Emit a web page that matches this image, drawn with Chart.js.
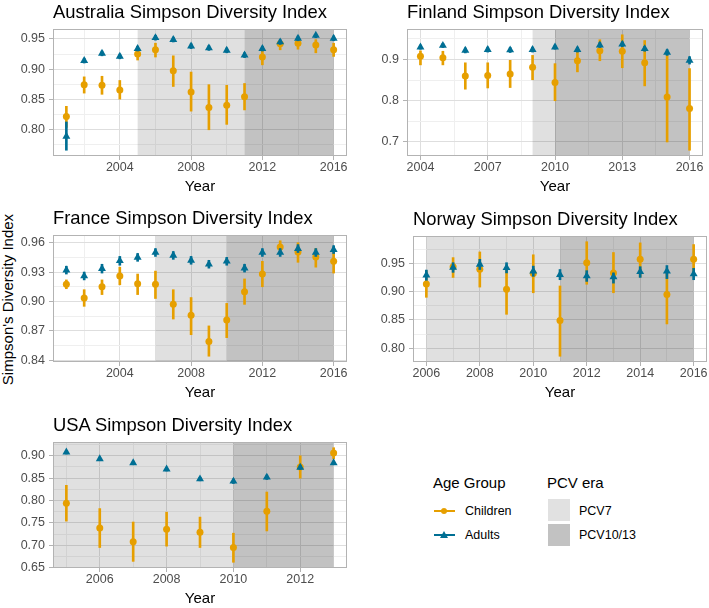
<!DOCTYPE html>
<html>
<head>
<meta charset="utf-8">
<script src="https://cdn.jsdelivr.net/npm/chart.js@4.4.0/dist/chart.umd.min.js"></script>
<style>
  html, body { margin: 0; padding: 0; background: #fff; overflow: hidden; }
  #page { position: relative; width: 709px; height: 608px; overflow: hidden;
          font-family: "Liberation Sans", Arial, sans-serif; color: #000; }
  #page canvas { position: absolute; }
  .title { position: absolute; font-size: 18.4px; line-height: 18px; white-space: nowrap; }
  .ylab { position: absolute; font-size: 15px; line-height: 15px; width: 300px; text-align: center;
          transform: rotate(-90deg); white-space: nowrap; }
  .lgd-title { position: absolute; font-size: 15px; line-height: 15px; white-space: nowrap; }
  .lgd-text { position: absolute; font-size: 12.5px; line-height: 12px; white-space: nowrap; }
  .lgd-line { position: absolute; width: 21px; height: 2px; }
  .lgd-dot { position: absolute; width: 6px; height: 6px; border-radius: 50%; }
  .lgd-tri { position: absolute; width: 0; height: 0; border-left: 4px solid transparent;
             border-right: 4px solid transparent; }
  .lgd-box { position: absolute; width: 22px; height: 22px; }
</style>
</head>
<body>
<div id="page">
  <div class="ylab" style="left:-143px; top:292px;">Simpson's Diversity Index</div>

  <div class="lgd-title" style="left:433px; top:475px;">Age Group</div>
  <div class="lgd-line" style="left:434px; top:510px; background:#E69F00;"></div>
  <div class="lgd-dot" style="left:441px; top:508px; background:#E69F00;"></div>
  <div class="lgd-text" style="left:465px; top:505px;">Children</div>
  <div class="lgd-line" style="left:434px; top:534px; background:#006f94;"></div>
  <div class="lgd-tri" style="left:440px; top:531px; border-bottom:7px solid #006f94;"></div>
  <div class="lgd-text" style="left:465px; top:529px;">Adults</div>

  <div class="lgd-title" style="left:547px; top:475px;">PCV era</div>
  <div class="lgd-box" style="left:548px; top:499px; background:#e1e1e1;"></div>
  <div class="lgd-box" style="left:548px; top:524px; background:#c2c2c2;"></div>
  <div class="lgd-text" style="left:579px; top:505px;">PCV7</div>
  <div class="lgd-text" style="left:579px; top:529px;">PCV10/13</div>
</div>

<script>
// ---------- data ----------

// Australia
const ausYears   = [2001, 2002, 2003, 2004, 2005, 2006, 2007, 2008, 2009, 2010, 2011, 2012, 2013, 2014, 2015, 2016];
const ausChild   = [0.821, 0.874, 0.873, 0.865, 0.925, 0.932, 0.897, 0.862, 0.836, 0.840, 0.854, 0.920, 0.942, 0.943, 0.940, 0.932];
const ausChildLo = [0.803, 0.860, 0.858, 0.850, 0.915, 0.920, 0.871, 0.830, 0.799, 0.808, 0.832, 0.907, 0.932, 0.933, 0.927, 0.921];
const ausChildHi = [0.838, 0.887, 0.888, 0.881, 0.933, 0.943, 0.922, 0.895, 0.874, 0.873, 0.876, 0.930, 0.946, 0.948, 0.949, 0.943];
const ausAdult   = [0.788, 0.914, 0.926, 0.921, 0.934, 0.952, 0.949, 0.938, 0.935, 0.931, 0.923, 0.934, 0.945, 0.951, 0.956, 0.951];
const ausAdultLo = [0.765, 0.910, 0.922, 0.917, 0.930, 0.948, 0.945, 0.934, 0.931, 0.927, 0.919, 0.930, 0.941, 0.947, 0.952, 0.947];
const ausAdultHi = [0.812, 0.918, 0.930, 0.925, 0.938, 0.956, 0.953, 0.942, 0.939, 0.935, 0.927, 0.938, 0.949, 0.955, 0.957, 0.955];
const ausEra     = [2005, 2011, 2016];

// Finland
const finYears   = [2004, 2005, 2006, 2007, 2008, 2009, 2010, 2011, 2012, 2013, 2014, 2015, 2016];
const finChild   = [0.908, 0.904, 0.860, 0.861, 0.865, 0.881, 0.844, 0.897, 0.921, 0.920, 0.892, 0.809, 0.781];
const finChildLo = [0.887, 0.887, 0.828, 0.831, 0.832, 0.851, 0.800, 0.870, 0.897, 0.880, 0.836, 0.700, 0.680];
const finChildHi = [0.921, 0.920, 0.892, 0.892, 0.898, 0.910, 0.890, 0.920, 0.948, 0.960, 0.946, 0.915, 0.878];
const finAdult   = [0.930, 0.934, 0.922, 0.924, 0.923, 0.924, 0.930, 0.924, 0.935, 0.937, 0.926, 0.917, 0.898];
const finAdultLo = [0.925, 0.929, 0.916, 0.918, 0.917, 0.918, 0.925, 0.918, 0.929, 0.931, 0.920, 0.910, 0.889];
const finAdultHi = [0.935, 0.939, 0.928, 0.930, 0.929, 0.930, 0.935, 0.930, 0.941, 0.943, 0.932, 0.924, 0.907];
const finEra     = [2009, 2010, 2016];

// France
const fraYears   = [2001, 2002, 2003, 2004, 2005, 2006, 2007, 2008, 2009, 2010, 2011, 2012, 2013, 2014, 2015, 2016];
const fraChild   = [0.9175, 0.9035, 0.915, 0.926, 0.918, 0.9175, 0.897, 0.886, 0.859, 0.881, 0.910, 0.928, 0.9556, 0.9505, 0.9454, 0.941];
const fraChildLo = [0.913, 0.895, 0.907, 0.917, 0.907, 0.903, 0.882, 0.866, 0.844, 0.863, 0.897, 0.915, 0.951, 0.940, 0.935, 0.929];
const fraChildHi = [0.922, 0.912, 0.922, 0.935, 0.928, 0.931, 0.912, 0.904, 0.875, 0.898, 0.923, 0.941, 0.962, 0.960, 0.954, 0.950];
const fraAdult   = [0.932, 0.926, 0.9335, 0.9416, 0.945, 0.950, 0.947, 0.942, 0.938, 0.941, 0.934, 0.950, 0.950, 0.954, 0.950, 0.953];
const fraAdultLo = [0.928, 0.922, 0.929, 0.937, 0.941, 0.946, 0.943, 0.938, 0.934, 0.937, 0.930, 0.946, 0.946, 0.950, 0.946, 0.949];
const fraAdultHi = [0.936, 0.930, 0.938, 0.946, 0.949, 0.954, 0.951, 0.946, 0.942, 0.945, 0.938, 0.954, 0.954, 0.958, 0.954, 0.957];
const fraEra     = [2006, 2010, 2016];

// Norway
const norYears   = [2006, 2007, 2008, 2009, 2010, 2011, 2012, 2013, 2014, 2015, 2016];
const norChild   = [0.9136, 0.944, 0.9396, 0.904, 0.932, 0.849, 0.951, 0.933, 0.957, 0.895, 0.957];
const norChildLo = [0.890, 0.925, 0.908, 0.860, 0.898, 0.786, 0.913, 0.898, 0.926, 0.843, 0.932];
const norChildHi = [0.937, 0.960, 0.970, 0.945, 0.965, 0.910, 0.988, 0.969, 0.986, 0.937, 0.983];
const norAdult   = [0.929, 0.9425, 0.948, 0.942, 0.936, 0.930, 0.9275, 0.926, 0.935, 0.936, 0.931];
const norAdultLo = [0.920, 0.934, 0.939, 0.933, 0.927, 0.921, 0.918, 0.915, 0.925, 0.923, 0.921];
const norAdultHi = [0.938, 0.951, 0.957, 0.951, 0.945, 0.939, 0.937, 0.933, 0.944, 0.946, 0.941];
const norEra     = [2006, 2011, 2016];

// USA
const usaYears   = [2005, 2006, 2007, 2008, 2009, 2010, 2011, 2012, 2013];
const usaChild   = [0.794, 0.7385, 0.708, 0.736, 0.729, 0.695, 0.776, 0.875, 0.906];
const usaChildLo = [0.754, 0.695, 0.664, 0.698, 0.695, 0.662, 0.732, 0.850, 0.893];
const usaChildHi = [0.834, 0.782, 0.752, 0.774, 0.763, 0.727, 0.819, 0.900, 0.918];
const usaAdult   = [0.908, 0.893, 0.884, 0.870, 0.848, 0.843, 0.852, 0.874, 0.884];
const usaAdultLo = [0.904, 0.889, 0.880, 0.866, 0.844, 0.838, 0.847, 0.869, 0.880];
const usaAdultHi = [0.912, 0.897, 0.888, 0.874, 0.852, 0.848, 0.857, 0.879, 0.888];
const usaEra     = [2000, 2010, 2013];

// ---------- tick labels ----------
const ausXMajor = [2004, 2008, 2012, 2016];        const ausXMinor = [2002, 2006, 2010, 2014];
const ausYMajor = [0.80, 0.85, 0.90, 0.95];        const ausYMinor = [0.775, 0.825, 0.875, 0.925];
const finXMajor = [2004, 2007, 2010, 2013, 2016];  const finXMinor = [2005.5, 2008.5, 2011.5, 2014.5];
const finYMajor = [0.7, 0.8, 0.9];                 const finYMinor = [0.75, 0.85, 0.95];
const fraXMajor = [2004, 2008, 2012, 2016];        const fraXMinor = [2002, 2006, 2010, 2014];
const fraYMajor = [0.84, 0.87, 0.90, 0.93, 0.96];  const fraYMinor = [0.855, 0.885, 0.915, 0.945];
const norXMajor = [2006, 2008, 2010, 2012, 2014, 2016]; const norXMinor = [2007, 2009, 2011, 2013, 2015];
const norYMajor = [0.80, 0.85, 0.90, 0.95];        const norYMinor = [0.825, 0.875, 0.925, 0.975];
const usaXMajor = [2006, 2008, 2010, 2012];        const usaXMinor = [2005, 2007, 2009, 2011, 2013];
const usaYMajor = [0.65, 0.70, 0.75, 0.80, 0.85, 0.90]; const usaYMinor = [0.675, 0.725, 0.775, 0.825, 0.875, 0.925];

// ---------- setup ----------
const ORANGE = "#E69F00";
const BLUE   = "#006f94";
Chart.defaults.font.family = "'Liberation Sans', Arial, sans-serif";

const panels = [
  { title: "Australia Simpson Diversity Index", rect: [53, 29, 347, 156],
    years: ausYears, child: ausChild, childLo: ausChildLo, childHi: ausChildHi,
    adult: ausAdult, adultLo: ausAdultLo, adultHi: ausAdultHi, era: ausEra,
    xMajor: ausXMajor, xMinor: ausXMinor, yMajor: ausYMajor, yMinor: ausYMinor,
    xLim: [2000.25, 2016.75], yLim: [0.7554, 0.9666], digits: 2 },
  { title: "Finland Simpson Diversity Index", rect: [407, 29, 703, 156],
    years: finYears, child: finChild, childLo: finChildLo, childHi: finChildHi,
    adult: finAdult, adultLo: finAdultLo, adultHi: finAdultHi, era: finEra,
    xMajor: finXMajor, xMinor: finXMinor, yMajor: finYMajor, yMinor: finYMinor,
    xLim: [2003.4, 2016.6], yLim: [0.666, 0.974], digits: 1 },
  { title: "France Simpson Diversity Index", rect: [53, 235, 347, 362],
    years: fraYears, child: fraChild, childLo: fraChildLo, childHi: fraChildHi,
    adult: fraAdult, adultLo: fraAdultLo, adultHi: fraAdultHi, era: fraEra,
    xMajor: fraXMajor, xMinor: fraXMinor, yMajor: fraYMajor, yMinor: fraYMinor,
    xLim: [2000.25, 2016.75], yLim: [0.8381, 0.9679], digits: 2 },
  { title: "Norway Simpson Diversity Index", rect: [413, 236, 707, 362],
    years: norYears, child: norChild, childLo: norChildLo, childHi: norChildHi,
    adult: norAdult, adultLo: norAdultLo, adultHi: norAdultHi, era: norEra,
    xMajor: norXMajor, xMinor: norXMinor, yMajor: norYMajor, yMinor: norYMinor,
    xLim: [2005.5, 2016.5], yLim: [0.7759, 0.9981], digits: 2 },
  { title: "USA Simpson Diversity Index", rect: [53, 442, 347, 568],
    years: usaYears, child: usaChild, childLo: usaChildLo, childHi: usaChildHi,
    adult: usaAdult, adultLo: usaAdultLo, adultHi: usaAdultHi, era: usaEra,
    xMajor: usaXMajor, xMinor: usaXMinor, yMajor: usaYMajor, yMinor: usaYMinor,
    xLim: [2004.6, 2013.4], yLim: [0.6492, 0.9308], digits: 2 }
];

const PAD_L = 50, PAD_T = 20, PAD_R = 14, AXIS_H = 42;
const has = (arr, v) => arr.some(m => Math.abs(m - v) < 1e-9);

// shaded vaccine eras, drawn over the grid but under the points, plus the panel border
const eraPlugin = {
  id: "eras",
  beforeDatasetsDraw(chart, args, opts) {
    const { ctx, chartArea: a, scales: { x } } = chart;
    const e = opts.bounds;
    const p0 = x.getPixelForValue(e[0]);
    const p1 = x.getPixelForValue(e[1]);
    const p2 = x.getPixelForValue(e[2]);
    ctx.save();
    ctx.beginPath();
    ctx.rect(a.left, a.top, a.width, a.height);
    ctx.clip();
    ctx.fillStyle = "rgba(0,0,0,0.12)";
    ctx.fillRect(p0, a.top, p1 - p0, a.height);
    ctx.fillStyle = "rgba(0,0,0,0.24)";
    ctx.fillRect(p1, a.top, p2 - p1, a.height);
    ctx.restore();
  },
  afterDatasetsDraw(chart) {
    const { ctx, chartArea: a } = chart;
    ctx.save();
    ctx.strokeStyle = "#b3b3b3";
    ctx.lineWidth = 1;
    ctx.strokeRect(a.left + 0.5, a.top + 0.5, a.width - 1, a.height - 1);
    ctx.restore();
  }
};

const page = document.getElementById("page");

panels.forEach(p => {
  const [L, T, R, B] = p.rect;

  const cv = document.createElement("canvas");
  cv.width = R - L + PAD_L + PAD_R;
  cv.height = B - T + PAD_T + AXIS_H;
  cv.style.left = (L - PAD_L) + "px";
  cv.style.top = (T - PAD_T) + "px";
  page.appendChild(cv);

  const t = document.createElement("div");
  t.className = "title";
  t.textContent = p.title;
  t.style.left = L + "px";
  t.style.top = (T - 26) + "px";
  page.appendChild(t);

  const xTicks = p.xMajor.concat(p.xMinor).sort((a, b) => a - b);
  const yTicks = p.yMajor.concat(p.yMinor).sort((a, b) => a - b);

  const pts = (vals) => p.years.map((yr, i) => ({ x: yr, y: vals[i] }));
  const bars = (lo, hi) => p.years.map((yr, i) => ({ x: yr, y: [lo[i], hi[i]] }));

  new Chart(cv, {
    type: "scatter",
    data: {
      datasets: [
        { type: "scatter", label: "Adults", data: pts(p.adult), order: 1,
          pointStyle: "triangle", pointRadius: 4.6, backgroundColor: BLUE, borderColor: BLUE, borderWidth: 0 },
        { type: "bar", label: "Adults range", data: bars(p.adultLo, p.adultHi), order: 2,
          backgroundColor: BLUE, barThickness: 2, grouped: false, borderWidth: 0 },
        { type: "scatter", label: "Children", data: pts(p.child), order: 3,
          pointStyle: "circle", pointRadius: 3.5, backgroundColor: ORANGE, borderColor: ORANGE, borderWidth: 0 },
        { type: "bar", label: "Children range", data: bars(p.childLo, p.childHi), order: 4,
          backgroundColor: ORANGE, barThickness: 2, grouped: false, borderWidth: 0 }
      ]
    },
    options: {
      responsive: false,
      animation: false,
      events: [],
      layout: { padding: { left: 0, top: PAD_T, right: PAD_R, bottom: 0 } },
      plugins: {
        legend: { display: false },
        tooltip: { enabled: false },
        eras: { bounds: p.era }
      },
      scales: {
        x: {
          type: "linear",
          min: p.xLim[0], max: p.xLim[1],
          offset: false,
          afterBuildTicks: axis => { axis.ticks = xTicks.map(v => ({ value: v })); },
          afterFit: axis => { axis.height = AXIS_H; },
          ticks: {
            autoSkip: false, maxRotation: 0, padding: 0,
            color: "#4d4d4d", font: { size: 12.5 },
            callback: v => has(p.xMajor, v) ? String(v) : ""
          },
          grid: {
            offset: false,
            color: c => has(p.xMajor, c.tick.value) ? "#dedede" : "#efefef",
            tickLength: 4,
            tickColor: c => has(p.xMajor, c.tick.value) ? "#b3b3b3" : "rgba(0,0,0,0)"
          },
          border: { display: false },
          title: { display: true, text: "Year", color: "#000", font: { size: 15 }, padding: { top: 0, bottom: 2 } }
        },
        y: {
          type: "linear",
          min: p.yLim[0], max: p.yLim[1],
          beginAtZero: false,
          afterBuildTicks: axis => { axis.ticks = yTicks.map(v => ({ value: v })); },
          afterFit: axis => { axis.width = PAD_L; },
          ticks: {
            autoSkip: false, padding: 4,
            color: "#4d4d4d", font: { size: 12.5 },
            callback: v => has(p.yMajor, v) ? v.toFixed(p.digits) : ""
          },
          grid: {
            color: c => has(p.yMajor, c.tick.value) ? "#dedede" : "#efefef",
            tickLength: 4,
            tickColor: c => has(p.yMajor, c.tick.value) ? "#b3b3b3" : "rgba(0,0,0,0)"
          },
          border: { display: false }
        }
      }
    },
    plugins: [eraPlugin]
  });
});
</script>
</body>
</html>
